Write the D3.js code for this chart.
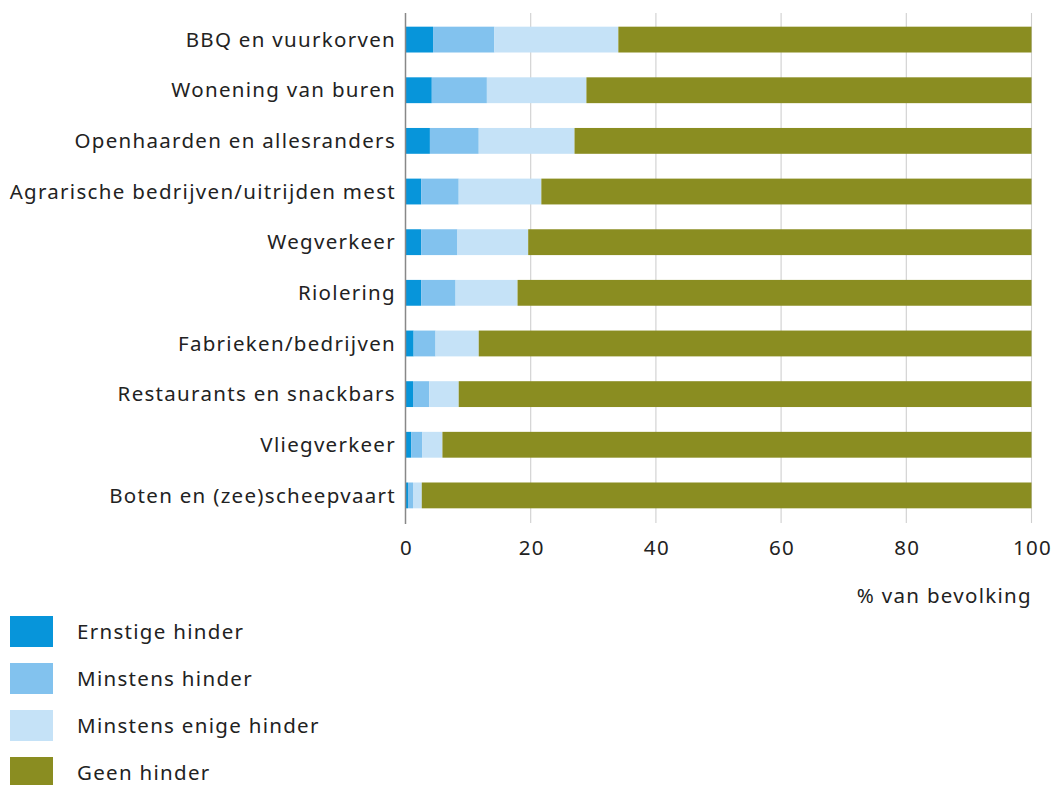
<!DOCTYPE html>
<html>
<head>
<meta charset="utf-8">
<script src="https://cdn.jsdelivr.net/npm/d3@7"></script>
<style>
  body { margin: 0; background: #fff; }
  text { font-family: "Noto Sans", sans-serif; fill: #222; font-size: 20.5px; letter-spacing: 1.3px; }
</style>
</head>
<body>
<div id="chart"></div>
<script>
// categories, top to bottom
const categories = [
    "BBQ en vuurkorven",
    "Wonening van buren",
    "Openhaarden en allesranders",
    "Agrarische bedrijven/uitrijden mest",
    "Wegverkeer",
    "Riolering",
    "Fabrieken/bedrijven",
    "Restaurants en snackbars",
    "Vliegverkeer",
    "Boten en (zee)scheepvaart"
];

// series names (legend order) and their segment values (% van bevolking)
const seriesNames = ["Ernstige hinder", "Minstens hinder", "Minstens enige hinder", "Geen hinder"];
const ernstige = [4.4, 4.2, 3.9, 2.5, 2.5, 2.5, 1.3, 1.2, 0.9, 0.4];
const minstens = [9.8, 8.8, 7.8, 6.0, 5.8, 5.5, 3.5, 2.6, 1.8, 0.8];
const enige    = [19.8, 15.9, 15.3, 13.2, 11.3, 9.9, 6.9, 4.7, 3.2, 1.4];
const geen     = [66.0, 71.1, 73.0, 78.3, 80.4, 82.1, 88.3, 91.5, 94.1, 97.4];
const colors = ["#0795da", "#82c2ee", "#c5e2f7", "#8a8d21"];

const xTicks = [0, 20, 40, 60, 80, 100];

const width = 1053, height = 785;
const x0 = 405.5, x1 = 1031.5;

const svg = d3.select("#chart").append("svg")
    .attr("width", width)
    .attr("height", height);

const x = d3.scaleLinear().domain([0, 100]).range([x0, x1]);
const y = d3.scaleBand().domain(categories).range([13, 522])
    .paddingInner(0.49).paddingOuter(0.27);

// build rows for stacking
const rows = categories.map((c, i) => ({
    cat: c,
    s0: ernstige[i], s1: minstens[i], s2: enige[i], s3: geen[i]
}));
const stack = d3.stack().keys(["s0", "s1", "s2", "s3"]);
const stacked = stack(rows);

// gridlines
svg.append("g")
    .selectAll("line")
    .data(xTicks.slice(1))
    .enter().append("line")
    .attr("x1", d => x(d)).attr("x2", d => x(d))
    .attr("y1", 13).attr("y2", 523)
    .style("stroke", "#cfcfcf")
    .style("stroke-width", 1.1);

// bars
svg.append("g")
    .selectAll("g")
    .data(stacked)
    .enter().append("g")
    .style("fill", (d, i) => colors[i])
    .selectAll("rect")
    .data(d => d)
    .enter().append("rect")
    .attr("x", d => x(d[0]))
    .attr("y", d => y(d.data.cat))
    .attr("width", d => x(d[1]) - x(d[0]))
    .attr("height", y.bandwidth());

// y axis line
svg.append("line")
    .attr("x1", x0).attr("x2", x0)
    .attr("y1", 13).attr("y2", 524)
    .style("stroke", "#888")
    .style("stroke-width", 1.5);

// category labels
svg.append("g")
    .selectAll("text")
    .data(categories)
    .enter().append("text")
    .attr("x", 396)
    .attr("y", d => y(d) + y.bandwidth() / 2)
    .attr("dy", "0.35em")
    .attr("text-anchor", "end")
    .text(d => d);

// x tick labels
svg.append("g")
    .selectAll("text")
    .data(xTicks)
    .enter().append("text")
    .attr("x", d => x(d) + 1)
    .attr("y", 555)
    .attr("text-anchor", "middle")
    .text(d => d);

svg.append("text")
    .attr("x", 1032)
    .attr("y", 603)
    .attr("text-anchor", "end")
    .text("% van bevolking");

// legend
const legend = svg.append("g")
    .selectAll("g")
    .data(seriesNames)
    .enter().append("g")
    .attr("transform", (d, i) => `translate(10, ${616 + i * 47})`);

legend.append("rect")
    .attr("width", 43)
    .attr("height", 31)
    .style("fill", (d, i) => colors[i]);

legend.append("text")
    .attr("x", 67)
    .attr("y", 16)
    .attr("dy", "0.35em")
    .text(d => d);
</script>
</body>
</html>
